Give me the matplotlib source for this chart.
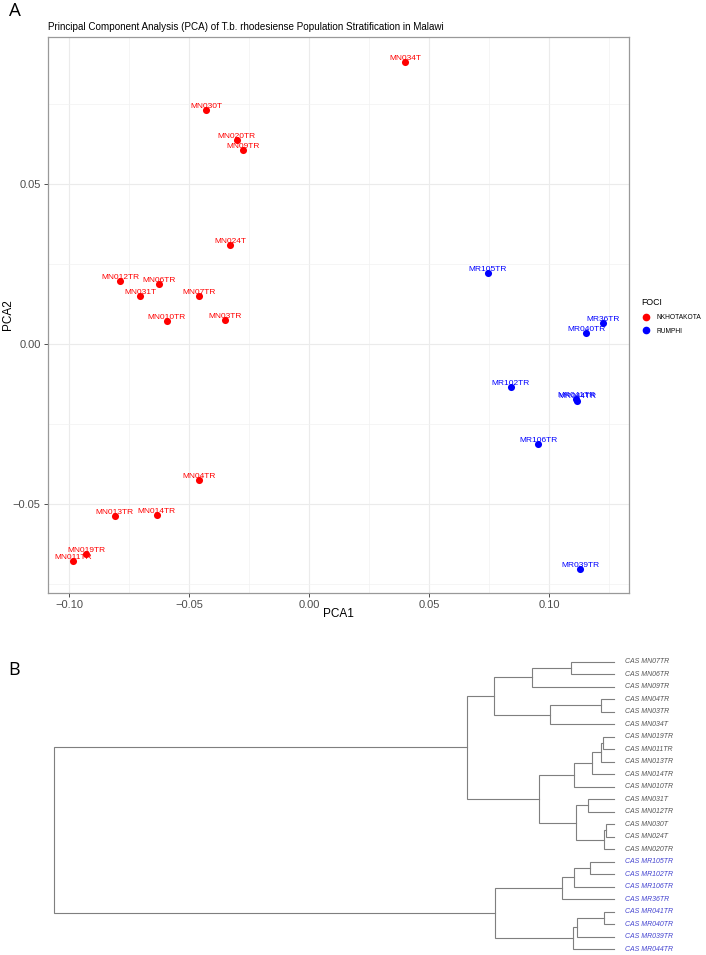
import numpy as np
import matplotlib
matplotlib.use('Agg')
import matplotlib.pyplot as plt
from matplotlib.lines import Line2D

# ---- panel A data (PCA) ----
nk_names = ['MN034T', 'MN030T', 'MN020TR', 'MN09TR', 'MN024T', 'MN012TR', 'MN06TR', 'MN031T',
            'MN07TR', 'MN010TR', 'MN03TR', 'MN04TR', 'MN013TR', 'MN014TR', 'MN019TR', 'MN011TR']
nk_pca1 = [0.0399, -0.0430, -0.0303, -0.0278, -0.0329, -0.0788, -0.0626, -0.0704,
           -0.0460, -0.0594, -0.0350, -0.0461, -0.0811, -0.0635, -0.0930, -0.0983]
nk_pca2 = [0.0881, 0.0730, 0.0638, 0.0606, 0.0309, 0.0198, 0.0187, 0.0151,
           0.0151, 0.0072, 0.0075, -0.0423, -0.0537, -0.0534, -0.0656, -0.0677]

ru_names = ['MR105TR', 'MR36TR', 'MR040TR', 'MR102TR', 'MR041TR', 'MR044TR', 'MR106TR', 'MR039TR']
ru_pca1 = [0.0743, 0.1224, 0.1153, 0.0840, 0.1111, 0.1117, 0.0953, 0.1128]
ru_pca2 = [0.0223, 0.0067, 0.0034, -0.0133, -0.0170, -0.0176, -0.0313, -0.0703]

# ---- panel B data (dendrogram) ----
tip_labels = ['CAS MN07TR', 'CAS MN06TR', 'CAS MN09TR', 'CAS MN04TR', 'CAS MN03TR', 'CAS MN034T',
              'CAS MN019TR', 'CAS MN011TR', 'CAS MN013TR', 'CAS MN014TR', 'CAS MN010TR', 'CAS MN031T',
              'CAS MN012TR', 'CAS MN030T', 'CAS MN024T', 'CAS MN020TR',
              'CAS MR105TR', 'CAS MR102TR', 'CAS MR106TR', 'CAS MR36TR', 'CAS MR041TR', 'CAS MR040TR',
              'CAS MR039TR', 'CAS MR044TR']
# merges: node ids 24.. in order, children refer to tips (0-23) or earlier nodes
merge_left = [0, 24, 3, 26, 25, 6, 29, 30, 31, 11, 13, 34, 33, 32, 28, 16, 39, 40, 20, 42, 43, 41, 38]
merge_right = [1, 2, 4, 5, 27, 7, 8, 9, 10, 12, 14, 15, 35, 36, 37, 17, 18, 19, 21, 22, 23, 44, 45]
merge_height = [0.0774, 0.1463, 0.0232, 0.1149, 0.2140, 0.0202, 0.0237, 0.0398, 0.0714, 0.0459,
                0.0148, 0.0173, 0.0673, 0.1342, 0.2618, 0.0423, 0.0714, 0.0923, 0.0173, 0.0666,
                0.0726, 0.2127, 1.0]

W, H = 706, 955
fig = plt.figure(figsize=(W / 100, H / 100), dpi=100)
sans = 'Liberation Sans'

# ---------------- panel A ----------------
l, r, t, b = 47.7, 629.3, 36.7, 593.3
ax = fig.add_axes([l / W, 1 - b / H, (r - l) / W, (b - t) / H])
ax.set_xlim(-0.109, 0.1333)
ax.set_ylim(-0.0778, 0.096)
ax.set_xticks([-0.10, -0.05, 0.00, 0.05, 0.10])
ax.set_xticks([-0.075, -0.025, 0.025, 0.075, 0.125], minor=True)
ax.set_yticks([-0.05, 0.00, 0.05])
ax.set_yticks([-0.075, -0.025, 0.025, 0.075], minor=True)
ax.set_xticklabels(['\u22120.10', '\u22120.05', '0.00', '0.05', '0.10'])
ax.set_yticklabels(['\u22120.05', '0.00', '0.05'])
ax.grid(which='major', color='#EBEBEB', lw=0.8)
ax.grid(which='minor', color='#F2F2F2', lw=0.5)
ax.set_axisbelow(True)
ax.tick_params(which='major', length=3, width=0.6, color='#333333', labelcolor='#4D4D4D',
               labelsize=8, pad=2)
ax.tick_params(which='minor', length=0)
for lab in ax.get_xticklabels() + ax.get_yticklabels():
    lab.set_family(sans)
for s in ax.spines.values():
    s.set_color('#999999')
    s.set_linewidth(0.9)

ax.scatter(nk_pca1, nk_pca2, s=26, color='#FF0000', zorder=3, label='NKHOTAKOTA', linewidths=0)
ax.scatter(ru_pca1, ru_pca2, s=26, color='#0000FF', zorder=3, label='RUMPHI', linewidths=0)
for nm, x, y in zip(nk_names, nk_pca1, nk_pca2):
    ax.annotate(nm, (x, y), xytext=(0, 1.5), textcoords='offset points', ha='center',
                va='baseline', fontsize=6, color='#FF0000', family=sans, zorder=4)
for nm, x, y in zip(ru_names, ru_pca1, ru_pca2):
    ax.annotate(nm, (x, y), xytext=(0, 1.5), textcoords='offset points', ha='center',
                va='baseline', fontsize=6, color='#0000FF', family=sans, zorder=4)

ax.set_xlabel('PCA1', fontsize=8.5, family=sans, va='center')
ax.set_ylabel('PCA2', fontsize=8.5, family=sans, va='center')
ax.xaxis.set_label_coords(0.5, -(614 - b) / (b - t))
ax.yaxis.set_label_coords((8 - l) / (r - l), 0.5)
ax.set_title('Principal Component Analysis (PCA) of T.b. rhodesiense Population Stratification in Malawi',
             fontsize=7.1, family=sans, loc='left', pad=5)

handles = [Line2D([], [], marker='o', ls='', color='#FF0000', markersize=4.5),
           Line2D([], [], marker='o', ls='', color='#0000FF', markersize=4.5)]
leg = ax.legend(handles, ['NKHOTAKOTA', 'RUMPHI'], title='FOCI', loc='upper left',
                bbox_to_anchor=(1.02, 0.530), frameon=False, borderpad=0, borderaxespad=0,
                handlelength=1.6, handletextpad=0.8, labelspacing=1.0,
                prop={'family': sans, 'size': 4.8}, alignment='left')
leg.get_title().set_fontsize(6.3)
leg.get_title().set_family(sans)

fig.text(9 / W, 1 - 11.5 / H, 'A', fontsize=13.5, family='Open Sans', va='center', ha='left')
fig.text(8 / W, 1 - 670 / H, 'B', fontsize=13, family='Open Sans', va='center', ha='left')

# ---------------- panel B ----------------
x_root, x_tip, y_first, y_last = 53.6, 614.0, 661.7, 949.0
axd = fig.add_axes([x_root / W, 1 - y_last / H, (x_tip - x_root) / W, (y_last - y_first) / H])
axd.set_xlim(max(merge_height), 0)
axd.set_ylim(len(tip_labels) - 1, 0)
axd.axis('off')

ypos = {i: float(i) for i in range(len(tip_labels))}
hpos = {i: 0.0 for i in range(len(tip_labels))}
node = len(tip_labels)
for a, c, h in zip(merge_left, merge_right, merge_height):
    axd.plot([hpos[a], h, h, hpos[c]], [ypos[a], ypos[a], ypos[c], ypos[c]],
             color='#7F7F7F', lw=0.8, clip_on=False, solid_joinstyle='miter')
    ypos[node] = (ypos[a] + ypos[c]) / 2
    hpos[node] = h
    node += 1

for i, lab in enumerate(tip_labels):
    col = '#4545D0' if 'MR' in lab else '#555555'
    axd.annotate(lab, (0, i), xytext=(8, 0), textcoords='offset points', ha='left',
                 va='center', fontsize=5, style='italic', color=col, family=sans)

fig.savefig('out.png', dpi=100)
